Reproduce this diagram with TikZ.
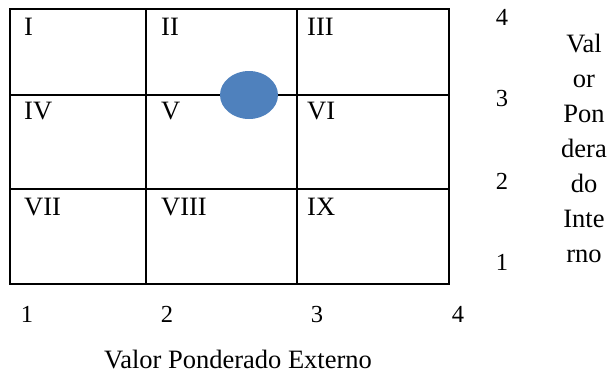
\documentclass[tikz,border=0pt]{standalone}
\usepackage{fontspec}
\setmainfont{Liberation Serif}
\newfontfamily\tnr{Liberation Serif}
\usetikzlibrary{shapes.geometric}
\definecolor{dotblue}{HTML}{4F81BD}
\begin{document}
\begin{tikzpicture}[x=1pt,y=-1pt,
  gridline/.style={line width=1.8pt,black},
  cell/.style={anchor=base west,inner sep=0pt,font=\tnr\fontsize{26.5}{31}\selectfont},
  tick/.style={anchor=base,inner sep=0pt,font=\tnr\fontsize{24.5}{29}\selectfont},
  vlab/.style={anchor=base,inner sep=0pt,font=\tnr\fontsize{26.5}{30}\selectfont}]
\useasboundingbox (0,0) rectangle (611,373);
% grid
\draw[gridline] (10,9) rectangle (449,284);
\draw[gridline] (146,9) -- (146,284);
\draw[gridline] (297,9) -- (297,284);
\draw[gridline] (10,95) -- (449,95);
\draw[gridline] (10,189) -- (449,189);
% cell labels
\node[cell] (c1) at (24,35) {I};
\node[cell] (c2) at (161,35) {II};
\node[cell] (c3) at (307,35) {III};
\node[cell] (c4) at (24,119) {IV};
\node[cell] (c5) at (161,119) {V};
\node[cell] (c6) at (307,119) {VI};
\node[cell] (c7) at (24,215) {VII};
\node[cell] (c8) at (161,215) {VIII};
\node[cell] (c9) at (307,215) {IX};
% dot
\node[ellipse,fill=dotblue,minimum width=58pt,minimum height=48pt,inner sep=0pt] (dot) at (249,95) {};
% x ticks
\node[tick] (x1) at (27,322) {1};
\node[tick] (x2) at (167,322) {2};
\node[tick] (x3) at (317,322) {3};
\node[tick] (x4) at (458,322) {4};
% y ticks
\node[tick] (y4) at (502,25) {4};
\node[tick] (y3) at (502,106) {3};
\node[tick] (y2) at (502,189) {2};
\node[tick] (y1) at (502,270) {1};
% axis titles
\node[vlab] (xt) at (238,368) {Valor Ponderado Externo};
\node[vlab] (v1) at (584,52) {Val};
\node[vlab] (v2) at (584,87) {or};
\node[vlab] (v3) at (584,122) {Pon};
\node[vlab] (v4) at (584,157) {dera};
\node[vlab] (v5) at (584,192) {do};
\node[vlab] (v6) at (584,227) {Inte};
\node[vlab] (v7) at (584,262) {rno};
\end{tikzpicture}
\end{document}
